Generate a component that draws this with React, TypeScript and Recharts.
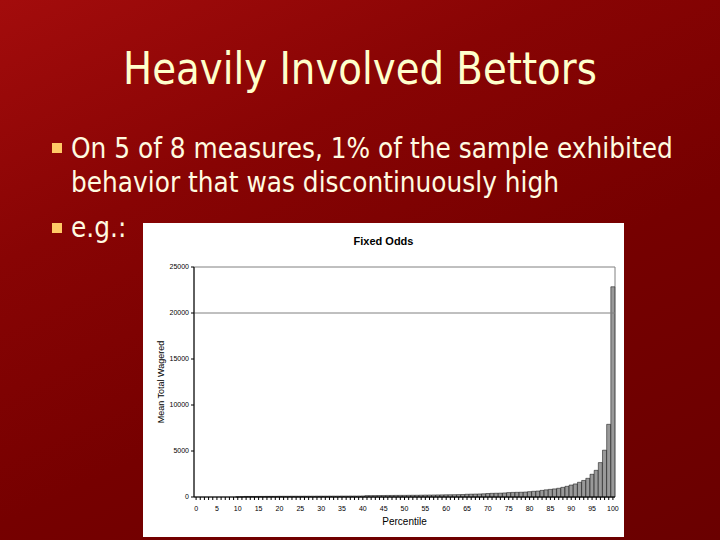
import { Bar, BarChart, ReferenceArea, ReferenceLine, XAxis, YAxis, Label } from "recharts";

// mean total wagered for each percentile 0..100
const wagered = [
  0, 0, 0, 0, 0, 0, 0, 0, 0, 0,
  10, 20, 60, 60, 60, 65, 65, 70, 70, 70,
  80, 80, 80, 85, 85, 85, 90, 90, 90, 95,
  95, 95, 100, 100, 100, 105, 105, 110, 110, 110,
  115, 150, 150, 155, 160, 165, 170, 170, 175, 180,
  180, 185, 190, 190, 200, 210, 215, 220, 225, 230,
  240, 245, 250, 260, 270, 300, 310, 320, 330, 350,
  380, 400, 410, 420, 440, 480, 500, 510, 520, 540,
  580, 620, 650, 720, 780, 830, 880, 950, 1050, 1160,
  1300, 1420, 1600, 1800, 2030, 2470, 2900, 3740, 5090, 7900,
  22850,
];
const xLabels = [0, 5, 10, 15, 20, 25, 30, 35, 40, 45, 50, 55, 60, 65, 70, 75, 80, 85, 90, 95, 100];
const yTicks = [0, 5000, 10000, 15000, 20000, 25000];

const data = wagered.map((v, i) => ({ p: i, v }));

const slideFont = "'DejaVu Sans', Verdana, sans-serif";
const chartFont = "'Liberation Sans', Arial, sans-serif";

const XTick = (props: any) => {
  const { x, y, payload } = props;
  if (!xLabels.includes(payload.value)) return <g />;
  return (
    <text x={x} y={y + 9} textAnchor="middle" fontSize={7} fontFamily={chartFont} fill="#000">
      {payload.value}
    </text>
  );
};

const Bullet = ({ top }: { top: number }) => (
  <div style={{ position: "absolute", left: 52, top, width: 10, height: 10, background: "#ffc966" }} />
);

export default function App() {
  return (
    <div
      style={{
        position: "fixed",
        left: 0,
        top: 0,
        width: 720,
        height: 540,
        overflow: "hidden",
        background: "linear-gradient(155deg, #a30c0c 0%, #880404 30%, #760000 60%, #6a0000 100%)",
        fontFamily: slideFont,
        color: "#fffbe0",
      }}
    >
      <div
        style={{
          position: "absolute",
          left: 0,
          width: 720,
          top: 43,
          textAlign: "center",
          fontSize: 44,
          color: "#ffffcc",
          whiteSpace: "nowrap",
          transform: "scaleX(0.88)",
          transformOrigin: "center",
        }}
      >
        Heavily Involved Bettors
      </div>
      <Bullet top={143} />
      <div
        style={{
          position: "absolute",
          left: 71,
          top: 132,
          fontSize: 28,
          lineHeight: "34px",
          whiteSpace: "nowrap",
          transform: "scaleX(0.888)",
          transformOrigin: "left",
        }}
      >
        On 5 of 8 measures, 1% of the sample exhibited
        <br />
        behavior that was discontinuously high
      </div>
      <Bullet top={223} />
      <div
        style={{
          position: "absolute",
          left: 71,
          top: 211,
          fontSize: 28,
          lineHeight: "34px",
          transform: "scaleX(0.888)",
          transformOrigin: "left",
        }}
      >
        e.g.:
      </div>

      <div style={{ position: "absolute", left: 143, top: 223, width: 481, height: 314, background: "#fff" }}>
        <div
          style={{
            position: "absolute",
            left: 0,
            width: 481,
            top: 12,
            textAlign: "center",
            fontFamily: chartFont,
            fontWeight: "bold",
            fontSize: 11,
            color: "#000",
          }}
        >
          Fixed Odds
        </div>
        <BarChart
          width={481}
          height={314}
          data={data}
          barCategoryGap={0}
          margin={{ top: 44, right: 9, left: 16, bottom: 20 }}
        >
          <ReferenceArea y1={0} y2={25000} fill="none" stroke="#808080" strokeWidth={1} ifOverflow="extendDomain" />
          <ReferenceLine y={20000} stroke="#808080" strokeWidth={1} />
          <XAxis
            dataKey="p"
            interval={0}
            height={20}
            tick={<XTick />}
            tickSize={3}
            axisLine={{ stroke: "#000" }}
            tickLine={{ stroke: "#000" }}
          >
            <Label value="Percentile" position="insideBottom" offset={-8} fontSize={10} fontFamily={chartFont} fill="#000" />
          </XAxis>
          <YAxis
            width={35}
            domain={[0, 25000]}
            ticks={yTicks}
            tickSize={3}
            interval={0}
            axisLine={{ stroke: "#000" }}
            tickLine={{ stroke: "#000" }}
            tick={{ fontSize: 7, fontFamily: chartFont, fill: "#000" }}
          >
            <Label
              value="Mean Total Wagered"
              angle={-90}
              position="insideLeft"
              offset={0}
              dx={2}
              fontSize={9}
              fontFamily={chartFont}
              fill="#000"
              style={{ textAnchor: "middle" }}
            />
          </YAxis>
          <Bar dataKey="v" fill="#999999" stroke="#000" strokeWidth={0.5} isAnimationActive={false} />
        </BarChart>
      </div>
    </div>
  );
}
